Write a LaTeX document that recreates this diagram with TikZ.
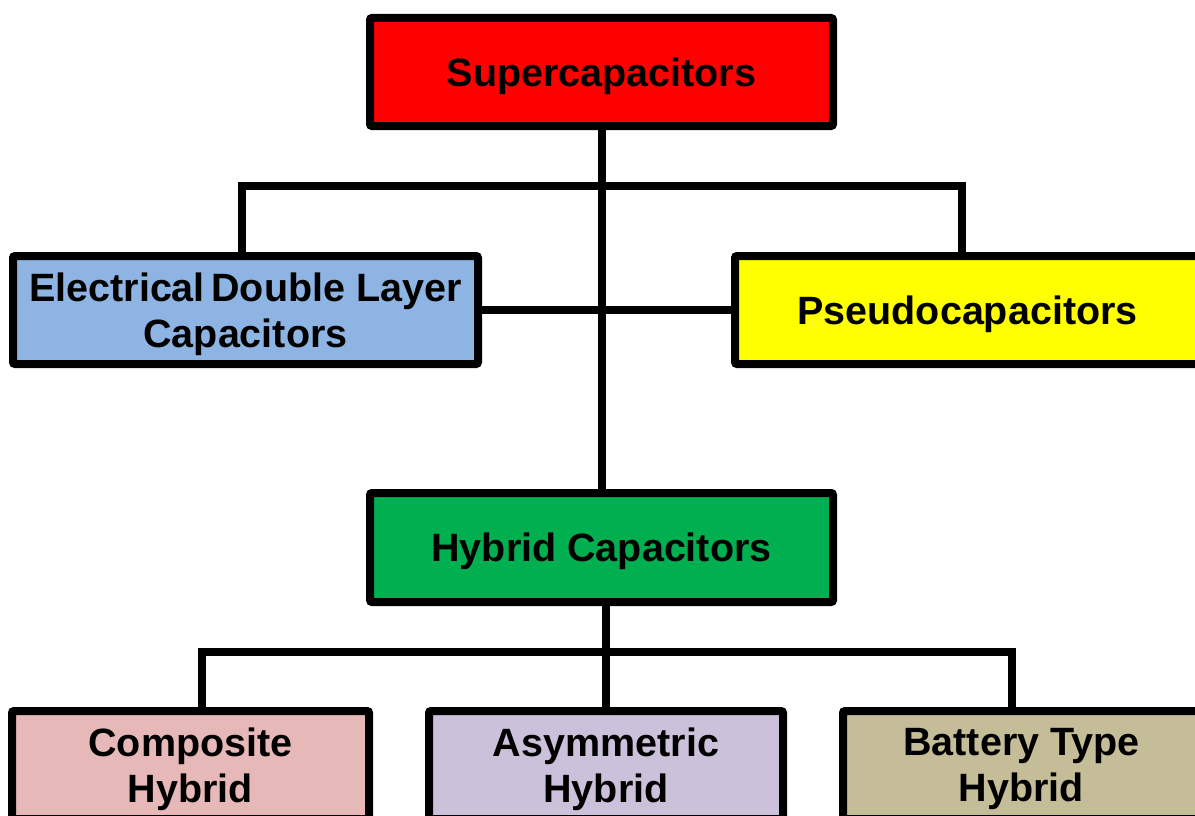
\documentclass[tikz,border=0pt]{standalone}
\usepackage{fontspec}
\setmainfont{Liberation Sans}
\definecolor{cRed}{HTML}{FF0000}
\definecolor{cBlue}{HTML}{8DB4E2}
\definecolor{cYellow}{HTML}{FFFF00}
\definecolor{cGreen}{HTML}{00B050}
\definecolor{cPink}{HTML}{E6B9B8}
\definecolor{cLav}{HTML}{CCC1DA}
\definecolor{cTan}{HTML}{C4BD97}
\tikzset{
  box/.style={draw=black, line width=8pt, rounded corners=2pt, rectangle,
    inner sep=0pt, align=center, text=black, text depth=0pt,
    font=\fontsize{39.5}{46.5}\selectfont\bfseries},
  link/.style={draw=black, line width=8pt}
}
\begin{document}
\begin{tikzpicture}[x=1pt,y=-1pt]
\useasboundingbox (0,0) rectangle (1195,816);
\clip (0,0) rectangle (1195,816);
\node[box, fill=cRed, minimum width=463pt, minimum height=108pt] (sup) at (601.5,72) {Supercapacitors};
\node[box, fill=cBlue, minimum width=465pt, minimum height=108pt] (edlc) at (245.5,310) {Electrical\,Double Layer\\Capacitors};
\node[box, fill=cYellow, minimum width=465pt, minimum height=108pt] (pseudo) at (967.5,310) {Pseudocapacitors};
\node[box, fill=cGreen, minimum width=463pt, minimum height=109pt] (hyb) at (601.5,547.5) {Hybrid Capacitors};
\node[box, fill=cPink, minimum width=357pt, minimum height=108pt] (comp) at (190.5,765) {Composite\\Hybrid};
\node[box, fill=cLav, minimum width=354pt, minimum height=108pt] (asym) at (606,765) {Asymmetric\\Hybrid};
\node[box, fill=cTan, minimum width=357pt, minimum height=108pt] (batt) at (1021.5,765) {Battery Type\\Hybrid};
\coordinate (tl) at (242,186);
\coordinate (tr) at (962,186);
\coordinate (bl) at (202,652);
\coordinate (br) at (1012,652);
\draw[link] (sup.south) -- (hyb.north);
\draw[link] (tl |- edlc.north) -- (tl) -- (tr) -- (tr |- pseudo.north);
\draw[link] (edlc.east) -- (pseudo.west);
\draw[link] (hyb.south -| asym.north) -- (asym.north);
\draw[link] (bl |- comp.north) -- (bl) -- (br) -- (br |- batt.north);
\end{tikzpicture}
\end{document}
